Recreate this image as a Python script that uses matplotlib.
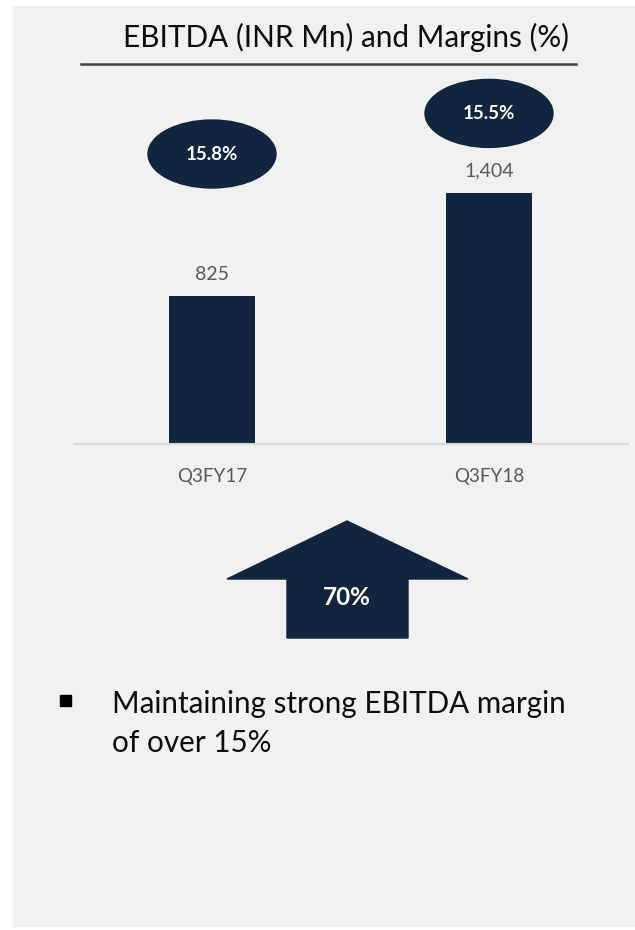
import matplotlib.pyplot as plt
from matplotlib.patches import Rectangle, Ellipse, Polygon

# data
quarters = ['Q3FY17', 'Q3FY18']
ebitda = [825, 1404]
margins = ['15.8%', '15.5%']
title = 'EBITDA (INR Mn) and Margins (%)'
note = ['Maintaining strong EBITDA margin', 'of over 15%']

navy = '#11253F'
W, H = 635, 930

plt.rcParams['font.family'] = ['Lato', 'DejaVu Sans']

fig = plt.figure(figsize=(W / 100, H / 100), dpi=100)
fig.patch.set_facecolor('white')


def fx(x):
    return x / W


def fy(y):
    return 1 - y / H


# grey panel
fig.patches.append(Rectangle((fx(13), fy(926)), fx(622), 920 / H,
                             transform=fig.transFigure, color='#F1F1F1', zorder=-5))

# title + underline
fig.text(fx(346), fy(47), title, ha='center', va='baseline', fontsize=21.4, color='#0D0D0D')
fig.add_artist(plt.Line2D([fx(81), fx(576)], [fy(64), fy(64)], transform=fig.transFigure,
                          color='#404040', lw=1.8))

# bar chart
ax = fig.add_axes([fx(73.5), fy(444), 554 / W, 378 / H])
ax.patch.set_alpha(0)
ymax = 2113
ax.set_xlim(-0.5, 1.5)
ax.set_ylim(0, ymax)
x = list(range(len(quarters)))
ax.bar(x, ebitda, width=0.31, color=navy, zorder=2)
for xi, v in zip(x, ebitda):
    ax.annotate(f'{v:,}', (xi, v), xytext=(0, 16), textcoords='offset points',
                ha='center', va='center', fontsize=14, color='#595959')

ax.set_xticks(x)
ax.set_xticklabels(quarters, fontsize=13.5, color='#595959')
ax.tick_params(axis='x', length=0, pad=17)
ax.set_yticks([])
for s in ['top', 'left', 'right']:
    ax.spines[s].set_visible(False)
ax.spines['bottom'].set_color('#D9D9D9')
ax.spines['bottom'].set_linewidth(1.5)

# margin ellipses
ell_y = [1621, 1848]
ell_w = 128 / 277
ell_h = 68 * ymax / 378
for xi, yc, m in zip(x, ell_y, margins):
    ax.add_patch(Ellipse((xi, yc), ell_w, ell_h, color=navy, zorder=3, clip_on=False))
    ax.text(xi, yc, m, ha='center', va='center', color='white', fontsize=13.5,
            fontweight='bold', zorder=4)

# growth arrow
growth = round((ebitda[1] / ebitda[0] - 1) * 100)
pts = [(347, 521), (468, 579), (408, 579), (408, 638), (287, 638), (287, 579), (227, 579)]
fig.patches.append(Polygon([(fx(a), fy(b)) for a, b in pts], closed=True,
                           transform=fig.transFigure, color=navy, zorder=2))
fig.text(fx(347), fy(597), f'{growth}%', ha='center', va='center', color='white',
         fontsize=17.5, fontweight='bold')

# bullet note
fig.patches.append(Rectangle((fx(60), fy(706)), fx(11), 11 / H,
                             transform=fig.transFigure, color='black', zorder=2))
for i, line in enumerate(note):
    fig.text(fx(112), fy(713 + 39 * i), line, ha='left', va='baseline', fontsize=21.3,
             color='#0D0D0D')

fig.savefig('out.png', dpi=100)
